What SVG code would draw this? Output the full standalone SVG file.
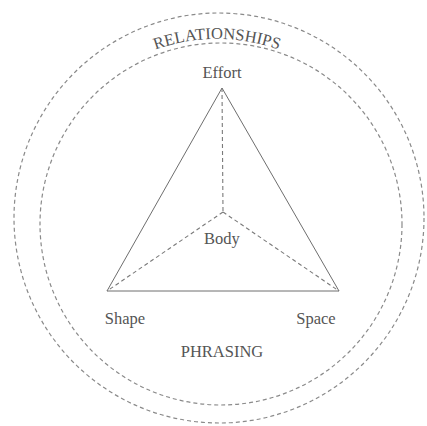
<svg xmlns="http://www.w3.org/2000/svg" width="427" height="426" viewBox="0 0 427 426">
<style>
.ring{fill:none;stroke:#8a8a8a;stroke-width:1.2;stroke-dasharray:4 3}
.solid{fill:none;stroke:#6e6e6e;stroke-width:1}
.dash{fill:none;stroke:#7a7a7a;stroke-width:1.1;stroke-dasharray:4 3}
text{font-family:"Liberation Serif","Times New Roman",serif;font-size:16.5px;fill:#555;text-anchor:middle}
</style>
<defs>
<path id="arcTop" d="M 32,224 A 185 185 0 0 1 402,224"/>
</defs>
<rect width="427" height="426" fill="#fff"/>
<g id="relationships">
<circle class="ring" cx="219" cy="218" r="205"/>
<text><textPath href="#arcTop" startOffset="50%">RELATIONSHIPS</textPath></text>
</g>
<g id="phrasing">
<circle class="ring" cx="221" cy="224" r="181"/>
<text x="222" y="357">PHRASING</text>
</g>
<g id="connectors">
<path class="solid" d="M222,88 L107,291 L339,291 Z"/>
<path class="dash" d="M222,88 L223,212 M223,212 L107,291 M223,212 L339,291"/>
</g>
<g id="effort"><text x="222" y="78">Effort</text></g>
<g id="body"><text x="222" y="244">Body</text></g>
<g id="shape"><text x="125" y="324">Shape</text></g>
<g id="space"><text x="316" y="324">Space</text></g>
</svg>
